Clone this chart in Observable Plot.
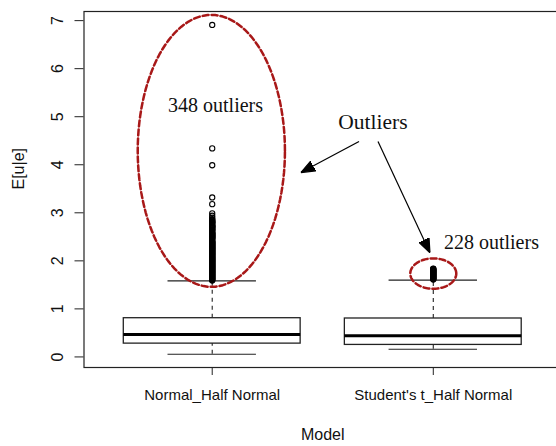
<!DOCTYPE html>
<html><head><meta charset="utf-8">
<script src="https://cdn.jsdelivr.net/npm/d3@7"></script>
<script src="https://cdn.jsdelivr.net/npm/@observablehq/plot@0.6"></script>
<style>body{margin:0;background:#fff}</style>
</head><body><div id="chart"></div>
<script>
// ---- data ----
const models = ["Normal_Half Normal", "Student's t_Half Normal"];
const q1 = [0.277, 0.25];
const medians = [0.465, 0.44];
const q3 = [0.806, 0.80];
const whiskerLo = [0.056, 0.16];
const whiskerHi = [1.585, 1.60];
const outliersNormal = [6.91, 4.34, 3.99, 3.32, 3.18, 2.99, 2.94, 2.90, 2.87, 2.85, 2.84, 2.82, 2.81, 2.80, 2.79, 2.78, 2.75, 2.74, 2.73, 2.72, 2.71, 2.70, 2.69, 2.68, 2.66, 2.65, 2.64, 2.63, 2.60, 2.59, 2.58, 2.57, 2.56, 2.55, 2.54, 2.53, 2.52, 2.51, 2.50, 2.49, 2.48, 2.47, 2.46, 2.45, 2.42, 2.41, 2.40, 2.39, 2.38, 2.37, 2.36, 2.35, 2.34, 2.33, 2.32, 2.31, 2.30, 2.29, 2.28, 2.27, 2.26, 2.25, 2.24, 2.23, 2.22, 2.21, 2.20, 2.19, 2.18, 2.17, 2.16, 2.15, 2.14, 2.13, 2.12, 2.11, 2.10, 2.09, 2.08, 2.07, 2.06, 2.05, 2.04, 2.03, 2.02, 2.01, 2.00, 1.99, 1.98, 1.97, 1.96, 1.95, 1.94, 1.93, 1.92, 1.91, 1.90, 1.89, 1.88, 1.87, 1.86, 1.85, 1.84, 1.83, 1.82, 1.81, 1.80, 1.79, 1.78, 1.77, 1.76, 1.75, 1.74, 1.73, 1.72, 1.71, 1.70, 1.69, 1.68, 1.67, 1.66, 1.65, 1.64, 1.63, 1.62, 1.61, 1.60, 1.59];
const outliersStudent = [1.84, 1.83, 1.82, 1.81, 1.80, 1.79, 1.78, 1.77, 1.76, 1.75, 1.74, 1.73, 1.72, 1.71, 1.70, 1.69, 1.68, 1.67, 1.66, 1.65, 1.64, 1.63, 1.62, 1.61];
const yTicks = [0, 1, 2, 3, 4, 5, 6, 7];
const labels = ["348 outliers", "Outliers", "228 outliers"];
const labelX = [1.015, 1.727, 2.263];
const labelY = [5.10, 4.75, 2.25];
const labelSize = [20, 21.5, 20];
const arrowFromX = [1.664, 1.750];
const arrowFromY = [4.483, 4.483];
const arrowToX = [1.401, 1.985];
const arrowToY = [3.837, 2.168];
const ellipseCx = [0.996, 2.0];
const ellipseCy = [4.289, 1.735];
const ellipseRx = [0.333, 0.104];
const ellipseRy = [2.83, 0.316];

// ---- derived tables ----
const boxes = models.map((m, i) => ({pos: i + 1, q1: q1[i], med: medians[i], q3: q3[i], lo: whiskerLo[i], hi: whiskerHi[i]}));
const outliers = [
  ...outliersNormal.map(v => ({pos: 1, v})),
  ...outliersStudent.map(v => ({pos: 2, v}))
];
const notes = labels.map((t, i) => ({t, x: labelX[i], y: labelY[i], s: labelSize[i]}));
const arrows = arrowFromX.map((_, i) => ({x1: arrowFromX[i], y1: arrowFromY[i], x2: arrowToX[i], y2: arrowToY[i]}));
const ellipsePts = ellipseCx.flatMap((cx, i) => d3.range(0, 361, 3).map(a => ({
  e: i,
  x: cx + ellipseRx[i] * Math.cos(a * Math.PI / 180),
  y: ellipseCy[i] + ellipseRy[i] * Math.sin(a * Math.PI / 180)
})));

function triangleMarker(color) {
  const ns = "http://www.w3.org/2000/svg";
  const m = document.createElementNS(ns, "marker");
  m.setAttribute("viewBox", "-14 -6 14 12");
  m.setAttribute("markerWidth", 14);
  m.setAttribute("markerHeight", 12);
  m.setAttribute("markerUnits", "userSpaceOnUse");
  m.setAttribute("refX", 0);
  m.setAttribute("refY", 0);
  m.setAttribute("orient", "auto");
  const p = document.createElementNS(ns, "path");
  p.setAttribute("d", "M-14,-5.5L0,0L-14,5.5Z");
  p.setAttribute("fill", color);
  m.appendChild(p);
  return m;
}

const ink = "#222";
const red = "#a81818";

const chart = Plot.plot({
  width: 556,
  height: 446,
  marginLeft: 83.5,
  marginRight: -5,
  marginTop: 11,
  marginBottom: 79,
  style: {fontFamily: "'Liberation Sans', Arial, sans-serif", background: "#fff", color: "#111"},
  x: {type: "linear", domain: [0.42, 2.58]},
  y: {domain: [-0.22, 7.19]},
  marks: [
    Plot.frame({stroke: ink, strokeWidth: 1.2}),
    Plot.axisY({ticks: yTicks, tickSize: 9, tickRotate: -90, tickPadding: 12, fontSize: 16, label: null, stroke: ink}),
    Plot.axisX({ticks: [1, 2], tickFormat: d => models[d - 1], tickSize: 8, tickPadding: 14, fontSize: 15, label: null, stroke: ink}),
    Plot.text(["E[u|e]"], {frameAnchor: "left", dx: -65, rotate: -90, fontSize: 16}),
    Plot.text(["Model"], {frameAnchor: "bottom", dy: 61, lineAnchor: "top", fontSize: 16}),
    // whiskers
    Plot.ruleX(boxes, {x: "pos", y1: "q3", y2: "hi", stroke: ink, strokeWidth: 1.1, strokeDasharray: "4,4"}),
    Plot.ruleX(boxes, {x: "pos", y1: "lo", y2: "q1", stroke: ink, strokeWidth: 1.1, strokeDasharray: "4,4"}),
    Plot.ruleY(boxes, {y: "hi", x1: d => d.pos - 0.2, x2: d => d.pos + 0.2, stroke: ink, strokeWidth: 1.2}),
    Plot.ruleY(boxes, {y: "lo", x1: d => d.pos - 0.2, x2: d => d.pos + 0.2, stroke: ink, strokeWidth: 1.2}),
    // boxes
    Plot.rect(boxes, {x1: d => d.pos - 0.4, x2: d => d.pos + 0.4, y1: "q1", y2: "q3", fill: "white", stroke: ink, strokeWidth: 1.3}),
    Plot.ruleY(boxes, {y: "med", x1: d => d.pos - 0.4, x2: d => d.pos + 0.4, stroke: "#000", strokeWidth: 3}),
    // outliers
    Plot.dot(outliers, {x: "pos", y: "v", r: 2.6, stroke: "#000", strokeWidth: 1.1, fill: "none"}),
    // annotations
    Plot.line(ellipsePts, {x: "x", y: "y", z: "e", stroke: red, strokeWidth: 2.5, strokeDasharray: "6,3"}),
    Plot.link(arrows, {x1: "x1", y1: "y1", x2: "x2", y2: "y2", stroke: "#000", strokeWidth: 1.2, markerEnd: triangleMarker}),
    Plot.text(notes, {x: "x", y: "y", text: "t", fontSize: "s", lineAnchor: "bottom", fontFamily: "'Liberation Serif', 'Times New Roman', serif", fill: "#111"})
  ]
});
document.getElementById("chart").appendChild(chart);
</script>
</body></html>
